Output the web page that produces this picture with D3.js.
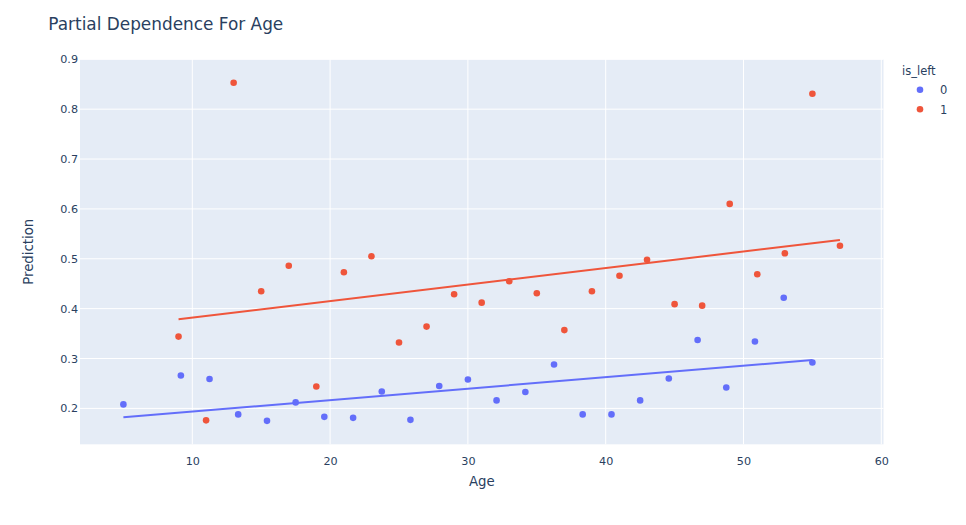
<!DOCTYPE html>
<html>
<head>
<meta charset="utf-8">
<script src="https://cdn.jsdelivr.net/npm/d3@7"></script>
<style>
  html, body { margin: 0; padding: 0; background: #fff; }
  svg text { font-family: "DejaVu Sans", Verdana, sans-serif; }
</style>
</head>
<body>
<svg id="chart" width="966" height="525"></svg>
<script>
// ---- data ----
const seriesNames = ["0", "1"];
const blueAge = [5, 9.17, 11.25, 13.33, 15.42, 17.5, 19.58, 21.67, 23.75, 25.83, 27.92, 30, 32.08, 34.17, 36.25, 38.33, 40.42, 42.5, 44.58, 46.67, 48.75, 50.83, 52.92, 55];
const blueValue = [0.208, 0.266, 0.259, 0.188, 0.175, 0.212, 0.183, 0.181, 0.234, 0.177, 0.245, 0.258, 0.216, 0.233, 0.288, 0.188, 0.188, 0.216, 0.260, 0.337, 0.242, 0.334, 0.422, 0.292];
const redAge = [9, 11, 13, 15, 17, 19, 21, 23, 25, 27, 29, 31, 33, 35, 37, 39, 41, 43, 45, 47, 49, 51, 53, 55, 57];
const redValue = [0.344, 0.176, 0.853, 0.435, 0.486, 0.244, 0.473, 0.505, 0.332, 0.364, 0.429, 0.412, 0.455, 0.431, 0.357, 0.435, 0.466, 0.498, 0.409, 0.406, 0.610, 0.469, 0.511, 0.831, 0.526];
const xTicks = [10, 20, 30, 40, 50, 60];
const yTicks = [0.2, 0.3, 0.4, 0.5, 0.6, 0.7, 0.8, 0.9];

const colors = ["#636efa", "#EF553B"];
const series = [
  { name: seriesNames[0], x: blueAge, y: blueValue, color: colors[0] },
  { name: seriesNames[1], x: redAge, y: redValue, color: colors[1] }
];

const FONT = '"DejaVu Sans", Verdana, sans-serif';
const svg = d3.select("#chart");
const L = 80, R = 883.5, T = 59.3, B = 444.3;

const x = d3.scaleLinear().domain([1.85, 60.16]).range([L, R]);
const y = d3.scaleLinear().domain([0.128, 0.9]).range([B, T]);

svg.append("rect").attr("x", L).attr("y", T).attr("width", R - L).attr("height", B - T).attr("fill", "#E5ECF6");

// gridlines
svg.append("g").selectAll("line").data(xTicks).join("line")
  .attr("x1", d => x(d)).attr("x2", d => x(d)).attr("y1", T).attr("y2", B)
  .attr("stroke", "#fff").attr("stroke-width", 1);
svg.append("g").selectAll("line").data(yTicks).join("line")
  .attr("x1", L).attr("x2", R).attr("y1", d => y(d)).attr("y2", d => y(d))
  .attr("stroke", "#fff").attr("stroke-width", 1);

// axes (labels only)
const xAxis = svg.append("g").attr("transform", `translate(0,${B})`)
  .call(d3.axisBottom(x).tickValues(xTicks).tickSize(0).tickPadding(13).tickFormat(d3.format("d")));
const yAxis = svg.append("g").attr("transform", `translate(${L},0)`)
  .call(d3.axisLeft(y).tickValues(yTicks).tickSize(0).tickPadding(2).tickFormat(d3.format(".1f")));
[xAxis, yAxis].forEach(g => {
  g.select(".domain").remove();
  g.selectAll("text").attr("fill", "#2a3f5f").style("font-size", "11.2px")
    .style("font-family", FONT);
});

// OLS trendlines computed from data
function ols(xs, ys) {
  const mx = d3.mean(xs), my = d3.mean(ys);
  let num = 0, den = 0;
  xs.forEach((xv, i) => { num += (xv - mx) * (ys[i] - my); den += (xv - mx) * (xv - mx); });
  const b = num / den, a = my - b * mx;
  return v => a + b * v;
}

const plot = svg.append("g");
series.forEach(s => {
  const pts = s.x.map((xv, i) => ({ x: xv, y: s.y[i] }));
  plot.append("g").selectAll("circle").data(pts).join("circle")
    .attr("cx", d => x(d.x)).attr("cy", d => y(d.y)).attr("r", 3.3)
    .attr("fill", s.color);
});
series.forEach(s => {
  const f = ols(s.x, s.y);
  const ends = [d3.min(s.x), d3.max(s.x)];
  plot.append("path")
    .datum(ends)
    .attr("d", d3.line().x(d => x(d)).y(d => y(f(d))))
    .attr("stroke", s.color).attr("stroke-width", 2).attr("fill", "none");
});

// titles
svg.append("text").attr("x", 48.3).attr("y", 29.5).text("Partial Dependence For Age")
  .attr("fill", "#2a3f5f").style("font-size", "16.9px");
svg.append("text").attr("x", (L + R) / 2).attr("y", 486).attr("text-anchor", "middle").text("Age")
  .attr("fill", "#2a3f5f").style("font-size", "13.3px");
svg.append("text").attr("transform", `translate(33,${(T + B) / 2}) rotate(-90)`).attr("text-anchor", "middle")
  .text("Prediction").attr("fill", "#2a3f5f").style("font-size", "13.3px");

// legend
const lg = svg.append("g");
lg.append("text").attr("x", 902).attr("y", 75).text("is_left").attr("fill", "#2a3f5f").style("font-size", "11.5px");
series.forEach((s, i) => {
  const cy = 89.7 + i * 19.6;
  lg.append("circle").attr("cx", 920).attr("cy", cy).attr("r", 3.3).attr("fill", s.color);
  lg.append("text").attr("x", 940).attr("y", cy + 4.3).text(s.name).attr("fill", "#2a3f5f").style("font-size", "11.5px");
});
</script>
</body>
</html>
